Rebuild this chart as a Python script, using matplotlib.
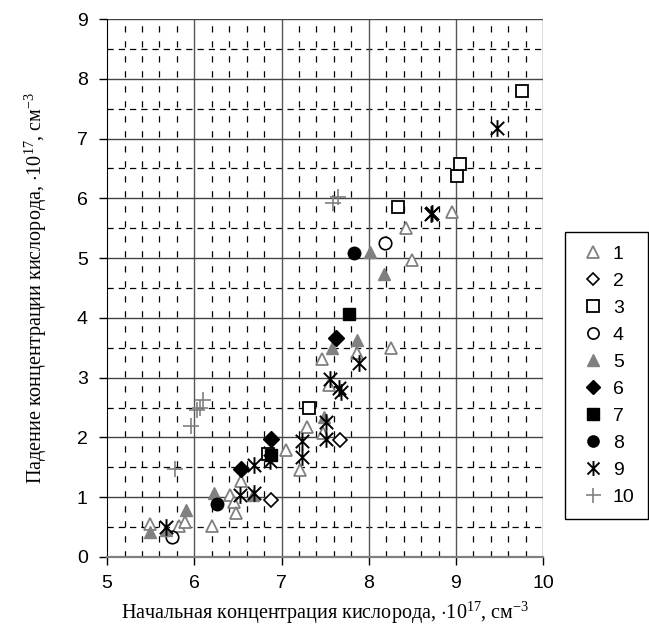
import numpy as np
import matplotlib
matplotlib.use("Agg")
import matplotlib.pyplot as plt
from matplotlib.path import Path

plt.rcParams['font.family'] = ['Liberation Sans', 'DejaVu Sans']
plt.rcParams['mathtext.fontset'] = 'custom'
plt.rcParams['mathtext.rm'] = 'Liberation Serif'

# ===== data =====
s1_x = [5.49, 5.83, 5.89, 6.20, 6.41, 6.46, 6.48, 6.53, 7.05, 7.21, 7.29, 7.48, 7.46, 7.54, 7.87, 8.25, 8.43, 8.49, 8.95]
s1_y = [0.55, 0.52, 0.58, 0.52, 1.03, 0.92, 0.74, 1.27, 1.79, 1.46, 2.18, 2.07, 3.32, 2.88, 3.41, 3.49, 5.50, 4.96, 5.77]

s2_x = [6.88, 7.67]
s2_y = [0.95, 1.96]

s3_x = [6.84, 7.31, 8.34, 9.01, 9.05, 9.76]
s3_y = [1.73, 2.49, 5.86, 6.37, 6.57, 7.80]

s4_x = [5.74, 8.19]
s4_y = [0.33, 5.26]

s5_x = [5.49, 5.67, 5.91, 6.23, 6.67, 7.49, 7.58, 7.87, 8.01, 8.17]
s5_y = [0.41, 0.45, 0.79, 1.07, 1.04, 2.35, 3.49, 3.63, 5.11, 4.73]

s6_x = [6.53, 6.88, 7.62]
s6_y = [1.47, 1.97, 3.66]

s7_x = [6.88, 7.77]
s7_y = [1.71, 4.07]

s8_x = [6.26, 7.83]
s8_y = [0.88, 5.09]

s9_x = [5.67, 6.52, 6.69, 6.69, 6.87, 7.23, 7.23, 7.51, 7.51, 7.56, 7.66, 7.68, 7.89, 8.71, 8.73, 9.47]
s9_y = [0.50, 1.03, 1.07, 1.54, 1.60, 1.68, 1.94, 1.97, 2.25, 2.97, 2.82, 2.76, 3.24, 5.74, 5.76, 7.17]

s10_x = [5.78, 5.96, 6.03, 6.07, 6.10, 7.59, 7.65]
s10_y = [1.47, 2.19, 2.46, 2.50, 2.63, 5.93, 6.02]

labels = ["1", "2", "3", "4", "5", "6", "7", "8", "9", "10"]

x_ticks = [5, 6, 7, 8, 9, 10]
y_ticks = [0, 1, 2, 3, 4, 5, 6, 7, 8, 9]

GREY = "#808080"

# asterisk: vertical bar + X
star = Path([(0, -1), (0, 1), (-0.8, -0.8), (0.8, 0.8), (-0.8, 0.8), (0.8, -0.8)],
            [Path.MOVETO, Path.LINETO, Path.MOVETO, Path.LINETO, Path.MOVETO, Path.LINETO])

fig = plt.figure(figsize=(6.49, 6.34), dpi=100)
ax = fig.add_axes([0.165, 0.1215, 0.672, 0.8485])

# grid
for xv in np.arange(5.2, 10, 0.2):
    if abs(xv - round(xv)) > 1e-6:
        ax.axvline(xv, color="black", lw=0.9, ls=(0, (5, 7)), zorder=1)
for yv in np.arange(0.5, 9, 1.0):
    ax.axhline(yv, color="black", lw=0.9, ls=(0, (5, 4)), zorder=1)
for xv in x_ticks[1:]:
    ax.axvline(xv, color="#555555", lw=1.0, zorder=1)
for yv in y_ticks[1:]:
    ax.axhline(yv, color="#444444", lw=1.0, zorder=1)

ms = 9
ax.plot(s1_x, s1_y, ls="none", marker="^", ms=ms, mfc="white", mec=GREY, mew=1.3, label=labels[0], zorder=3)
ax.plot(s2_x, s2_y, ls="none", marker="D", ms=ms-2, mfc="white", mec="black", mew=1.2, label=labels[1], zorder=3)
ax.plot(s3_x, s3_y, ls="none", marker="s", ms=ms, mfc="white", mec="black", mew=1.3, label=labels[2], zorder=3)
ax.plot(s4_x, s4_y, ls="none", marker="o", ms=ms, mfc="white", mec="black", mew=1.2, label=labels[3], zorder=3)
ax.plot(s5_x, s5_y, ls="none", marker="^", ms=ms, mfc=GREY, mec=GREY, label=labels[4], zorder=3)
ax.plot(s6_x, s6_y, ls="none", marker="D", ms=ms-1, mfc="black", mec="black", label=labels[5], zorder=3)
ax.plot(s7_x, s7_y, ls="none", marker="s", ms=ms, mfc="black", mec="black", label=labels[6], zorder=3)
ax.plot(s8_x, s8_y, ls="none", marker="o", ms=ms, mfc="black", mec="black", label=labels[7], zorder=3)
ax.plot(s9_x, s9_y, ls="none", marker=star, ms=ms+3, mfc="none", mec="black", mew=1.4, label=labels[8], zorder=4)
ax.plot(s10_x, s10_y, ls="none", marker="+", ms=ms+3, mec=GREY, mew=1.2, label=labels[9], zorder=3)

ax.set_xlim(5, 10)
ax.set_ylim(0, 9)
ax.set_xticks(x_ticks)
ax.set_yticks(y_ticks)
ax.tick_params(axis="both", labelsize=14, length=6, width=1, direction="out", colors="black")
ax.tick_params(axis="x", pad=7)
ax.tick_params(axis="y", pad=8)

for side in ["top", "right"]:
    ax.spines[side].set_visible(False)
ax.spines["left"].set_color("black")
ax.spines["bottom"].set_color(GREY)
ax.spines["bottom"].set_linewidth(1.6)

ax.set_xlabel("Начальная концентрация кислорода, $\\cdot$10$^{17}$, см$^{-3}$",
              family="Liberation Serif", fontsize=14.5, labelpad=5)
ax.set_ylabel("Падение концентрации кислорода, $\\cdot$10$^{17}$, см$^{-3}$",
              family="Liberation Serif", fontsize=14.5, labelpad=20)

leg = fig.legend(loc="upper left", bbox_to_anchor=(0.871, 0.186, 0.127, 0.448),
                 mode="expand", fontsize=14,
                 frameon=True, fancybox=False, edgecolor="black", framealpha=1,
                 labelspacing=0.48, handletextpad=0.25, handlelength=1.5,
                 borderpad=0.7, borderaxespad=0, markerscale=0.9)
leg.get_frame().set_linewidth(1.0)

fig.savefig("out.png", dpi=100)
